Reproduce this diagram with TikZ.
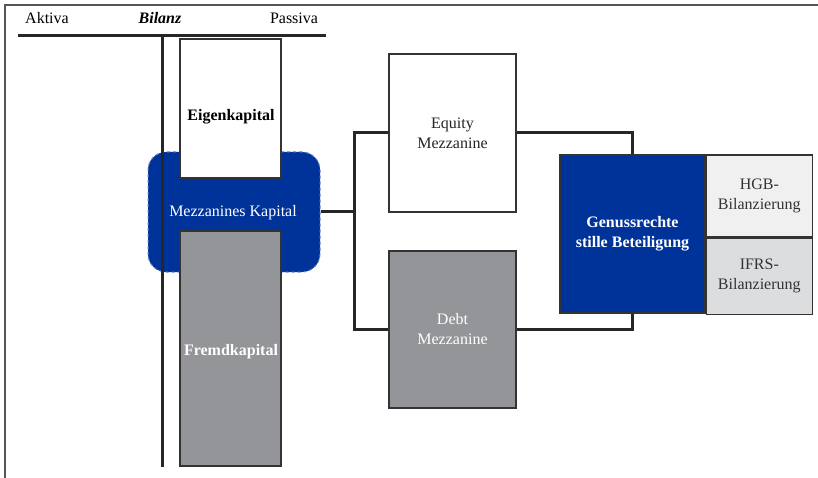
\documentclass[tikz,border=0pt]{standalone}
\usepackage{fontspec}
\setmainfont{Liberation Serif}
\usetikzlibrary{calc}
\usetikzlibrary{positioning}

\definecolor{mezzblue}{HTML}{003399}
\definecolor{debtgray}{HTML}{939598}
\definecolor{hgbgray}{HTML}{F0F0F0}
\definecolor{ifrsgray}{HTML}{DCDDDF}
\definecolor{framegray}{HTML}{555555}

\newcommand{\diagfont}{\fontsize{16}{20}\selectfont}

\tikzset{
  box/.style={draw=black!80,line width=1.3pt,inner sep=0pt,align=center,font=\diagfont},
  bilanzline/.style={line width=3pt,black!85},
  conn/.style={line width=3pt,black!85}
}

\begin{document}
\begin{tikzpicture} [x=1pt,y=-1pt]

\useasboundingbox (0,0) rectangle (818,478);

% frame
\draw[framegray,line width=1.2pt] (5,478)--(5,5)--(818,5);

% Bilanz header
\node (aktiva) at (47,18) {\diagfont Aktiva};
\node (bilanz) at (160,18) {\diagfont\bfseries\itshape Bilanz};
\node (passiva) at (294,18) {\diagfont Passiva};

% mezzanines Kapital
\node[fill=mezzblue,draw=mezzblue!60,dashed,line width=1pt,rounded corners=18pt,
  minimum width=172pt,minimum height=120pt,inner sep=0pt] (mezz) at (234,212) {};

\draw[bilanzline] (18,36)--(326,36);
\draw[bilanzline] (162,36)--(162,467);

\node[box,fill=white,minimum width=101pt,minimum height=139pt] (eigen) at (230.5,108.5) {};
\node[font=\diagfont\bfseries] (eigentext) at (231,117) {Eigenkapital};
\node[box,fill=debtgray,minimum width=101pt,minimum height=235pt] (fremd) at (230.5,348.5) {};
\node[font=\diagfont\bfseries,text=white] (fremdtext) at (231,352) {Fremdkapital};
\node[font=\diagfont,text=white] (mezztext) at (233,213) {Mezzanines Kapital};

% Equity / Debt
\node[box,fill=white,text=black!85,minimum width=127pt,minimum height=158pt] (equity) at (452.5,133) {Equity\\Mezzanine};
\node[box,fill=debtgray,text=white,minimum width=127pt,minimum height=157pt] (debt) at (452.5,329.5) {Debt\\Mezzanine};

% Genussrechte
\node[box,fill=mezzblue,text=white,font=\diagfont\bfseries,
  minimum width=145pt,minimum height=158pt] (genuss) at (632.5,234) {Genussrechte\\stille Beteiligung};
\node[box,fill=hgbgray,text=black!80,minimum width=106pt,minimum height=82pt,anchor=north west] (hgb) at (genuss.north east) {HGB-\\Bilanzierung};
\node[box,fill=ifrsgray,text=black!80,minimum width=106pt,minimum height=76pt,anchor=north west] (ifrs) at (hgb.south west) {IFRS-\\Bilanzierung};

\coordinate (split) at ($(mezz.east)+(34,0)$);
\draw[conn] (mezz.east)--(split);
\draw[conn] (equity.west)-|(split)|-(debt.west);
\draw[conn] (equity.east)-|(genuss.north);
\draw[conn] (debt.east)-|(genuss.south);

\end{tikzpicture}
\end{document}
